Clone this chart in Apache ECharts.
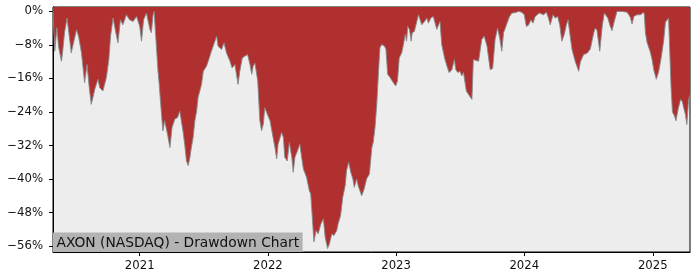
<!DOCTYPE html>
<html>
<head>
<meta charset="utf-8">
<script src="https://cdn.jsdelivr.net/npm/echarts@6/dist/echarts.min.js"></script>
<style>
html,body{margin:0;padding:0;background:#ffffff;}
#chart{width:700px;height:280px;}
</style>
</head>
<body>
<div id="chart"></div>
<script>
var chartTitle = 'AXON (NASDAQ) - Drawdown Chart';

var dates = [
'2020-04-29','2020-05-02','2020-05-04','2020-05-10','2020-05-15','2020-05-23','2020-05-26','2020-06-01','2020-06-08','2020-06-13',
'2020-06-20','2020-06-25','2020-07-05','2020-07-11','2020-07-19','2020-07-28','2020-08-04','2020-08-10','2020-08-16','2020-08-26',
'2020-09-04','2020-09-09','2020-09-18','2020-09-28','2020-10-05','2020-10-10','2020-10-17','2020-10-25','2020-10-31','2020-11-07',
'2020-11-14','2020-11-24','2020-12-03','2020-12-13','2020-12-23','2021-01-01','2021-01-06','2021-01-12','2021-01-20','2021-01-25',
'2021-01-30','2021-02-03','2021-02-08','2021-02-11','2021-02-18','2021-02-22','2021-02-25','2021-03-04','2021-03-08','2021-03-13',
'2021-03-21','2021-03-28','2021-04-03','2021-04-11','2021-04-19','2021-04-25','2021-04-30','2021-05-04','2021-05-09','2021-05-14',
'2021-05-19','2021-05-24','2021-05-28','2021-06-02','2021-06-07','2021-06-12','2021-06-16','2021-06-26','2021-07-01','2021-07-10',
'2021-07-15','2021-07-24','2021-08-03','2021-08-08','2021-08-12','2021-08-17','2021-08-22','2021-08-29','2021-09-05','2021-09-15',
'2021-09-21','2021-09-29','2021-10-08','2021-10-13','2021-10-20','2021-10-27','2021-11-04','2021-11-11','2021-11-16','2021-11-20',
'2021-11-25','2021-12-03','2021-12-09','2021-12-14','2021-12-19','2021-12-23','2021-12-28','2022-01-07','2022-01-14','2022-01-21',
'2022-01-26','2022-01-30','2022-02-09','2022-02-14','2022-02-18','2022-02-25','2022-03-03','2022-03-10','2022-03-14','2022-03-19',
'2022-03-26','2022-04-02','2022-04-07','2022-04-12','2022-04-21','2022-04-29','2022-05-03','2022-05-08','2022-05-12','2022-05-18',
'2022-05-24','2022-06-01','2022-06-08','2022-06-13','2022-06-20','2022-06-25','2022-07-02','2022-07-08','2022-07-16','2022-07-20',
'2022-07-27','2022-08-02','2022-08-09','2022-08-13','2022-08-19','2022-08-25','2022-08-31','2022-09-04','2022-09-11','2022-09-15',
'2022-09-25','2022-10-02','2022-10-09','2022-10-17','2022-10-24','2022-10-28','2022-11-02','2022-11-07','2022-11-12','2022-11-16',
'2022-11-21','2022-11-29','2022-12-03','2022-12-08','2022-12-15','2022-12-24','2022-12-31','2023-01-05','2023-01-10','2023-01-17',
'2023-01-22','2023-01-27','2023-01-31','2023-02-03','2023-02-08','2023-02-13','2023-02-16','2023-02-22','2023-03-01','2023-03-06',
'2023-03-08','2023-03-15','2023-03-23','2023-03-30','2023-04-03','2023-04-10','2023-04-17','2023-04-22','2023-04-27','2023-05-02',
'2023-05-06','2023-05-11','2023-05-19','2023-05-26','2023-06-01','2023-06-09','2023-06-16','2023-06-20','2023-06-26','2023-07-02',
'2023-07-07','2023-07-12','2023-07-20','2023-07-26','2023-07-31','2023-08-05','2023-08-09','2023-08-14','2023-08-24','2023-09-02',
'2023-09-09','2023-09-17','2023-09-26','2023-10-03','2023-10-10','2023-10-17','2023-10-23','2023-10-29','2023-11-03','2023-11-08',
'2023-11-13','2023-11-20','2023-11-27','2023-12-06','2023-12-16','2023-12-25','2024-01-01','2024-01-07','2024-01-13','2024-01-20',
'2024-01-26','2024-02-01','2024-02-06','2024-02-13','2024-02-18','2024-02-25','2024-03-04','2024-03-10','2024-03-15','2024-03-23',
'2024-03-29','2024-04-05','2024-04-11','2024-04-17','2024-04-24','2024-04-30','2024-05-05','2024-05-09','2024-05-16','2024-05-25',
'2024-05-30','2024-06-04','2024-06-09','2024-06-18','2024-06-28','2024-07-07','2024-07-17','2024-07-21','2024-07-26','2024-08-03',
'2024-08-10','2024-08-16','2024-08-19','2024-08-26','2024-09-02','2024-09-07','2024-09-12','2024-09-21','2024-10-06','2024-10-20',
'2024-10-29','2024-11-03','2024-11-08','2024-11-17','2024-11-27','2024-12-06','2024-12-08','2024-12-11','2024-12-16','2024-12-25',
'2024-12-30','2025-01-04','2025-01-11','2025-01-18','2025-01-25','2025-02-01','2025-02-06','2025-02-11','2025-02-15','2025-02-18',
'2025-02-22','2025-02-26','2025-03-04','2025-03-08','2025-03-14','2025-03-21','2025-03-26','2025-03-30','2025-04-04','2025-04-08',
'2025-04-13','2025-04-17'
];

var drawdown = [
0,-6,-9.5,-3.9,-8.5,-11.9,-10,-5,-1.6,-5,
-9.9,-8,-4.4,-6,-9.9,-17,-12.7,-18,-22.2,-18.6,
-16.2,-18.2,-19,-15.8,-11.5,-5.9,-1.6,-5.1,-7.5,-2,
-3.2,-0.8,-2,-2.4,-1.2,-3.6,-7.1,-2,-0.4,-0.2,
-4.3,-5.1,-0.8,0,-9.1,-14.3,-17,-24.6,-28.5,-26.1,
-29.3,-32.5,-27.7,-25.7,-25.3,-23.8,-24.2,-28.5,-31.7,-35.7,
-36.8,-34.8,-32.5,-30.1,-26.1,-23.8,-20.6,-17.4,-14.3,-13.1,
-11.9,-9.5,-7.1,-5.9,-8.3,-8.1,-9.1,-7.5,-9.9,-11.9,
-13.5,-12.7,-17.4,-14.3,-11.1,-10.7,-10.3,-12.7,-15,-13.1,
-12.3,-16.6,-26,-28.5,-26.9,-23,-23,-26.1,-29.3,-32.5,
-35.2,-31.7,-28.9,-30.1,-34.8,-35.7,-31.3,-34.8,-38.4,-34.8,
-33.3,-31.7,-34.8,-37.6,-39.6,-42.8,-43.6,-49.9,-55,-52.3,
-53.1,-50.7,-49.5,-53.9,-56.6,-55.5,-53.1,-53.5,-52.3,-50.7,
-48.7,-44.4,-41.6,-38,-36,-38.4,-40,-42,-40,-41.6,
-44,-42.4,-40,-38.8,-32.5,-31.2,-27.7,-22.2,-14.3,-8.7,
-7.9,-8.3,-9,-15,-15.8,-17,-17.8,-16.6,-11.1,-9.9,
-7.9,-5.5,-7.1,-3.6,-4.3,-7.1,-5.1,-4.8,-2.4,-0.8,
-0.6,-3.2,-2.4,-1.6,-2.8,-1.6,-1.2,-1.6,-4.3,-3.2,
-2.4,-7.9,-11.1,-13.1,-14.6,-13.9,-11.5,-13.9,-14.6,-14.3,
-15.4,-14.6,-19,-19.8,-19.4,-21,-11.5,-11.2,-11.9,-6.7,
-5.9,-8.3,-13.9,-13.6,-6.7,-4,-6.3,-9.5,-5.1,-4,
-2.8,-1.2,-0.4,-0.3,0,-0.2,-0.8,-3.6,-3.3,-2,
-2.8,-1.2,-1.6,-0.4,-0.8,-0.8,-0.2,-1.6,-3.2,-0.8,
-1.6,-1.2,-3.2,-7.1,-5.5,-3.2,-2,-4.8,-9.1,-11.9,
-13.1,-14.3,-12,-10.3,-10,-9,-5.1,-4,-4.5,-9.5,
-3.5,-0.4,-0.4,-1.6,-3.6,-4.6,-2.8,0,0,-0.2,
-1.4,-3,-1.2,-0.8,-0.8,-0.2,-0.8,-5.1,-7.5,-9.7,
-11.5,-14,-16.2,-14.3,-11,-7,-2.6,-2.4,-1.6,-2,
-18,-24,-25,-26.1,-23.4,-21,-21.5,-23,-24.6,-27,
-21,-20
];

var yTicks = [0,-8,-16,-24,-32,-40,-48,-56];
var xTickYears = [2021,2022,2023,2024,2025];

function toTime(s){ var p = s.split('-'); return Date.UTC(+p[0], +p[1]-1, +p[2]); }
var times = dates.map(toTime);
var seriesData = times.map(function(t,i){ return [t, drawdown[i]]; });
var xTickValues = xTickYears.map(function(y){ return Date.UTC(y,0,1); });

var chart = echarts.init(document.getElementById('chart'), null, {renderer:'canvas'});
var font = 'DejaVu Sans';
chart.setOption({
  animation:false,
  backgroundColor:'#ffffff',
  title:{
    text: chartTitle,
    left: 53,
    bottom: 28,
    backgroundColor:'#b3b3b3',
    padding:[3,3.5,1.5,3.5],
    itemGap:0,
    textStyle:{fontFamily:font, fontSize:13.8, fontWeight:'normal', color:'#111', lineHeight:15}
  },
  grid:{left:53, right:10, top:7, bottom:28, show:true, backgroundColor:'#ededed', borderColor:'#000', borderWidth:1, containLabel:false},
  xAxis:{
    type:'value',
    min:times[0], max:times[times.length-1],
    axisLine:{show:true, onZero:false, lineStyle:{color:'#000', width:1}},
    axisTick:{show:true, length:4, lineStyle:{color:'#000'}, customValues: xTickValues},
    axisLabel:{fontFamily:font, fontSize:11.7, color:'#111', margin:8, customValues: xTickValues,
      formatter:function(v){ return String(new Date(v).getUTCFullYear()); }},
    splitLine:{show:false}
  },
  yAxis:{
    type:'value',
    min:-57.43, max:1.05,
    axisLine:{show:true, onZero:false, lineStyle:{color:'#000', width:1}},
    axisTick:{show:true, length:4, lineStyle:{color:'#000'}, customValues: yTicks},
    axisLabel:{fontFamily:font, fontSize:11.7, color:'#111', margin:10, customValues: yTicks,
      formatter:function(v){ var r = Math.round(v); return (r < 0 ? '\u2212' + Math.abs(r) : String(r)) + '%'; }},
    splitLine:{show:false}
  },
  series:[{
    type:'line',
    data: seriesData,
    showSymbol:false,
    symbol:'none',
    lineStyle:{color:'#888888', width:1, opacity:0.9},
    areaStyle:{color:'#b03030', opacity:1, origin:'end'},
    z:2
  }]
});
</script>
</body>
</html>
